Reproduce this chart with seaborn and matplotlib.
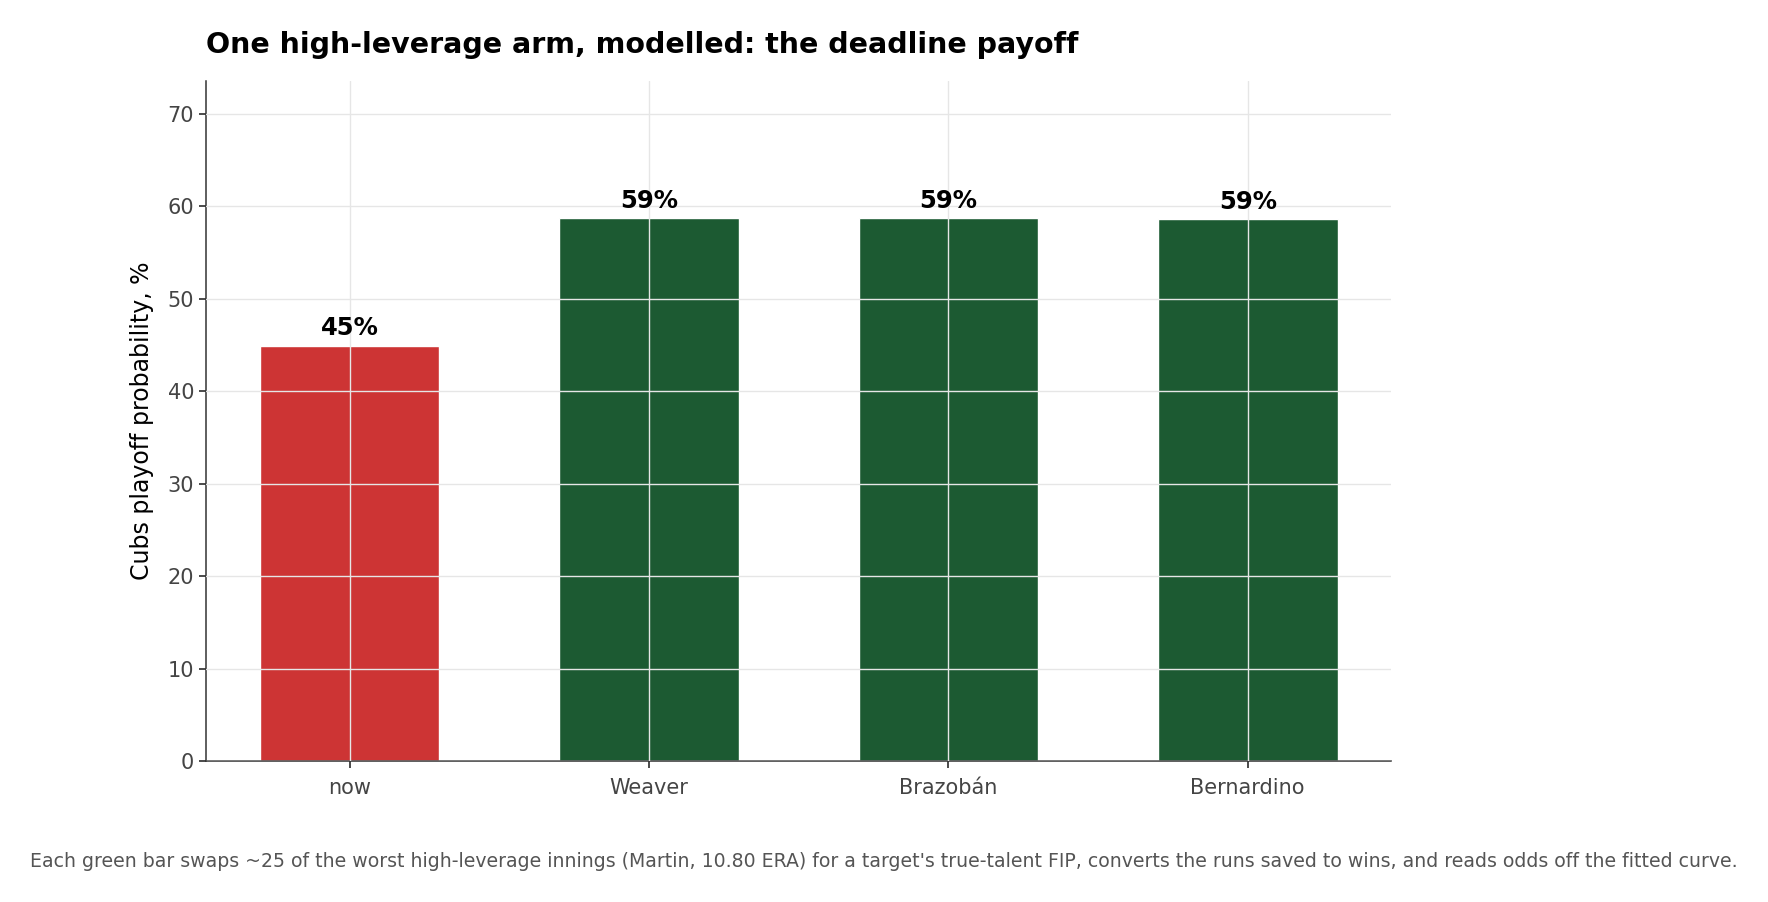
import matplotlib
matplotlib.use("Agg")
import matplotlib.pyplot as plt
import seaborn as sns
import pandas as pd

# values
scenarios = ["now", "Weaver", "Brazobán", "Bernardino"]
playoff_pct = [44.9, 58.7, 58.7, 58.55]
bar_colors = ["#cd3434", "#1c5a32", "#1c5a32", "#1c5a32"]

df = pd.DataFrame({"scenario": scenarios, "pct": playoff_pct})

sns.set_theme(style="white")
plt.rcParams["font.family"] = ["DejaVu Sans"]

fig = plt.figure(figsize=(17.68, 9.02), dpi=100)
ax = fig.add_axes([0.1165, 0.1563, 0.6705, 0.7537])

sns.barplot(data=df, x="scenario", y="pct", hue="scenario", palette=bar_colors,
            width=0.6, saturation=1, legend=False, ax=ax)

for i, v in enumerate(playoff_pct):
    ax.annotate(f"{v:.0f}%", (i, v), xytext=(0, 4), textcoords="offset points",
                ha="center", va="bottom", fontsize=17.5, fontweight="bold", color="black")

ax.set_xlim(-0.48, 3.48)
ax.set_ylim(0, 73.5)
ax.set_yticks(range(0, 71, 10))

# grid sits on top of the bars
ax.set_axisbelow(False)
ax.grid(True, color="#e6e6e6", linewidth=1)

sns.despine(ax=ax)
for s in ["left", "bottom"]:
    ax.spines[s].set_color("#333333")
    ax.spines[s].set_linewidth(1.1)

ax.tick_params(axis="both", which="both", length=5, color="#333333",
               labelsize=15, labelcolor="#444444", bottom=True, left=True)
ax.tick_params(axis="x", pad=7)

ax.set_xlabel("")
ax.set_ylabel("Cubs playoff probability, %", fontsize=17, color="black", labelpad=10)
ax.set_title("One high-leverage arm, modelled: the deadline payoff", loc="left",
             fontsize=20.5, fontweight="bold", color="black", pad=20)

fig.text(0.5, 0.045,
         "Each green bar swaps ~25 of the worst high-leverage innings (Martin, 10.80 ERA) "
         "for a target's true-talent FIP, converts the runs saved to wins, and reads odds off the fitted curve.",
         ha="center", va="center", fontsize=13.6, color="#555555")

fig.savefig("out.png", dpi=100)
